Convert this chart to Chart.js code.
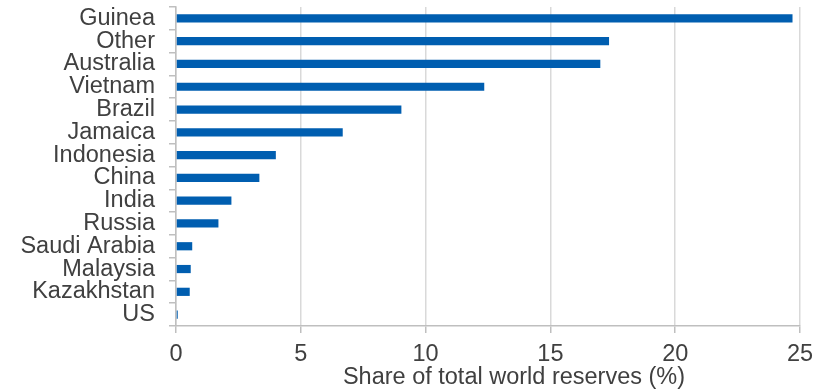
<!DOCTYPE html>
<html>
<head>
<meta charset="utf-8">
<script src="https://cdn.jsdelivr.net/npm/chart.js@4"></script>
<style>
  body { margin: 0; background: #fff; }
  #wrap { width: 825px; height: 392px; }
</style>
</head>
<body>
<div id="wrap"><canvas id="reservesChart" width="825" height="392"></canvas></div>
<script>
// share of total world reserves (%)
const countries = ['Guinea', 'Other', 'Australia', 'Vietnam', 'Brazil', 'Jamaica', 'Indonesia',
    'China', 'India', 'Russia', 'Saudi Arabia', 'Malaysia', 'Kazakhstan', 'US'];
const shares = [24.7, 17.35, 17.0, 12.35, 9.03, 6.68, 4.0, 3.34, 2.22, 1.7, 0.65, 0.59, 0.55, 0.07];
const xTicks = [0, 5, 10, 15, 20, 25];
const xTitle = 'Share of total world reserves (%)';

const FONT = '"Liberation Sans", Arial, sans-serif';
const TEXT = '#404040';
const AXIS = '#bfbfbf';

// axis title drawn by hand: in the original it sits a bit right of centre
const axisTitle = {
    id: 'axisTitle',
    afterDraw(chart) {
        const ctx = chart.ctx;
        const area = chart.chartArea;
        ctx.save();
        ctx.font = '23.5px ' + FONT;
        ctx.fillStyle = TEXT;
        ctx.textAlign = 'center';
        ctx.textBaseline = 'middle';
        ctx.fillText(xTitle, (area.left + area.right) / 2 + 26, chart.height - 14);
        ctx.restore();
    }
};

var ctx = document.getElementById('reservesChart').getContext('2d');
var reservesChart = new Chart(ctx, {
    type: 'bar',
    data: {
        labels: countries,
        datasets: [{
            data: shares,
            backgroundColor: '#005EB0',
            barPercentage: 0.36,
            categoryPercentage: 1
        }]
    },
    options: {
        indexAxis: 'y',
        responsive: false,
        animation: false,
        layout: { padding: { top: 7, right: 25, left: 0, bottom: 0 } },
        plugins: {
            legend: { display: false },
            tooltip: { enabled: false }
        },
        scales: {
            x: {
                min: 0,
                max: 25,
                afterBuildTicks: scale => { scale.ticks = xTicks.map(v => ({ value: v })); },
                afterFit: scale => { scale.height = 66; },
                grid: { color: '#d9d9d9', lineWidth: 1.5, tickColor: AXIS, tickLength: 7 },
                border: { color: AXIS, width: 1.5 },
                ticks: { color: TEXT, font: { family: FONT, size: 23.5 }, padding: 7, maxRotation: 0 }
            },
            y: {
                afterFit: scale => {
                    scale.width = 176;
                    scale.paddingTop = 0;
                    scale.paddingBottom = 0;
                },
                grid: { drawOnChartArea: false, tickColor: AXIS, tickLength: 7, lineWidth: 1.5 },
                border: { color: AXIS, width: 1.5 },
                ticks: { color: TEXT, font: { family: FONT, size: 23.5 }, padding: 14, autoSkip: false }
            }
        }
    },
    plugins: [axisTitle]
});
</script>
</body>
</html>
